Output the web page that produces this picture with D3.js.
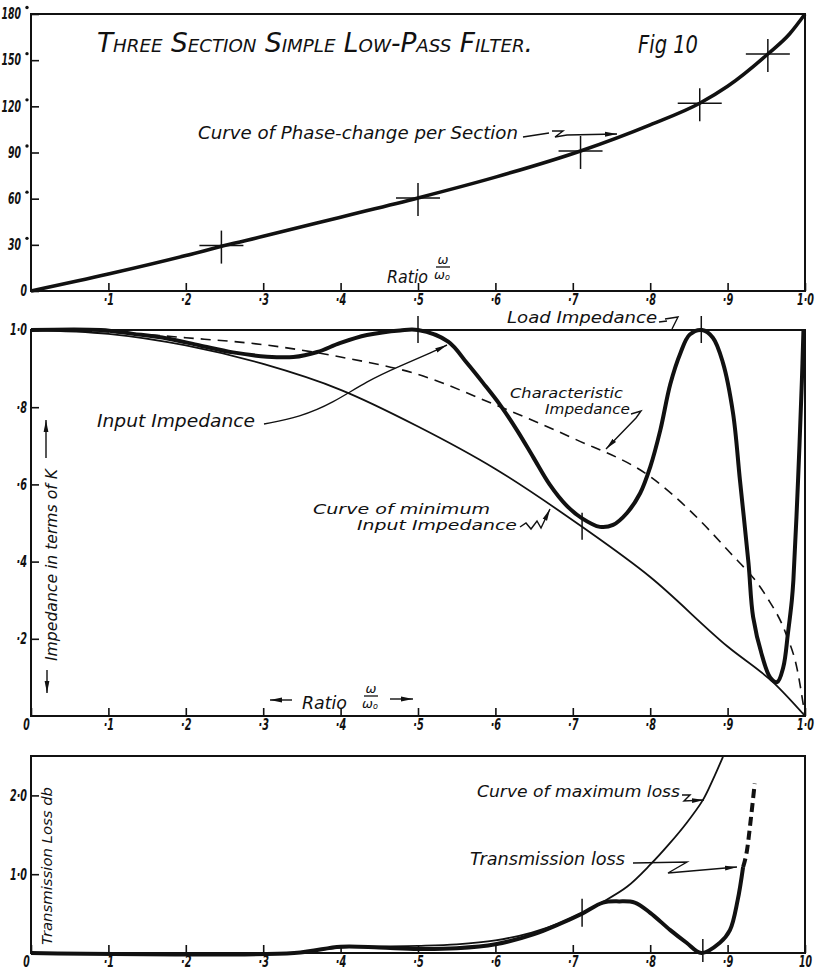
<!DOCTYPE html>
<html>
<head>
<meta charset="utf-8">
<script src="https://cdn.jsdelivr.net/npm/d3@7/dist/d3.min.js"></script>
<style>
  body { margin: 0; background: #fff; }
  svg text { font-family: "DejaVu Sans", sans-serif; font-style: italic; fill: #111; }
</style>
</head>
<body>
<svg id="chart" width="823" height="972"></svg>
<script>
// ratio w/w0 axis, shared by the three panels
var ratioTicks = [0, .1, .2, .3, .4, .5, .6, .7, .8, .9, 1];
var ratioLabels = ["0", "·1", "·2", "·3", "·4", "·5", "·6", "·7", "·8", "·9", "1·0"];
var lossRatioLabels = ["0", "·1", "·2", "·3", "·4", "·5", "·6", "·7", "·8", "·9", "10"];

var phaseTicks = [0, 30, 60, 90, 120, 150, 180];
var impTicks = [.2, .4, .6, .8, 1];
var impTickLabels = ["·2", "·4", "·6", "·8", "1·0"];
var lossTicks = [1, 2];
var lossTickLabels = ["1·0", "2·0"];

// phase-change per section (degrees)
var phaseX   = [0, .1, .2, .25, .3, .4, .5, .6, .71, .8, .864, .9, .952, .98, 1];
var phaseDeg = [0, 11, 23, 29.5, 35.5, 48, 60.5, 74, 91, 108, 122, 133, 154, 167, 180];
var phaseMarkX   = [.246, .5, .71, .864, .952];
var phaseMarkDeg = [29.5, 60.5, 91, 122, 154];

// impedance panel
var charX   = [0, .1, .2, .3, .4, .5, .6, .7, .8, .9, .95, .975, .99, 1];
var charImp = [1, .995, .98, .962, .93, .885, .806, .72, .62, .43, .31, .215, .12, 0];

var minX   = [0, .1, .2, .3, .4, .5, .6, .712, .8, .9, .96, 1];
var minImp = [1, .99, .96, .912, .845, .75, .64, .49, .36, .18, .085, 0];

var inputX   = [0, .09, .132, .176, .218, .261, .305, .339, .37, .399, .434, .477, .5,
                .539, .563, .584, .606, .628, .649, .67, .692, .712, .735, .752, .77, .787,
                .8, .813, .826, .839, .851, .867, .881, .894, .907, .916, .927, .933, .945,
                .955, .964, .972, .978, .983, .985, .991, .996, .998];
var inputImp = [1, 1, .99, .978, .96, .942, .931, .93, .943, .966, .987, .999, 1,
                .97, .915, .863, .806, .74, .67, .6, .545, .512, .49, .495, .526, .577,
                .645, .74, .86, .94, .988, 1, .98, .915, .785, .61, .396, .256, .153,
                .10, .088, .127, .215, .3, .352, .61, .87, 1];
var impMarkX = [.5, .866, .712];
var impMarkY = [1, 1, .49];

// transmission loss panel (db)
var maxLossX = [0, .34, .4, .5, .55, .6, .647, .683, .712, .739, .77, .8, .826, .847, .868, .881, .894];
var maxLoss  = [0, 0, .07, .09, .11, .16, .26, .38, .51, .65, .84, 1.12, 1.4, 1.65, 1.94, 2.2, 2.49];

var lossX = [0, .34, .4, .45, .5, .55, .6, .65, .683, .712, .739, .76, .78, .8, .826, .847, .866, .89, .903, .913, .92];
var loss  = [0, 0, .08, .07, .05, .06, .11, .24, .37, .5, .64, .655, .64, .51, .29, .13, 0, .13, .29, .67, 1.09];
var lossDashX = [.92, .925, .93, .935];
var lossDash  = [1.09, 1.3, 1.7, 2.15];
var lossMarkX = [.712, .868];
var lossMarkY = [.51, 0];

var svg = d3.select("#chart");
var ink = "#111";

var x = d3.scaleLinear().domain([0, 1]).range([31, 805]);
var yPhase = d3.scaleLinear().domain([0, 180]).range([291, 14]);
var yImp = d3.scaleLinear().domain([0, 1]).range([716, 330]);
var yLoss = d3.scaleLinear().domain([0, 2.5]).range([953, 756]);

svg.append("defs").append("marker")
    .attr("id", "arrow")
    .attr("viewBox", "0 0 12 6")
    .attr("refX", 12).attr("refY", 3)
    .attr("markerWidth", 12).attr("markerHeight", 6)
    .attr("markerUnits", "userSpaceOnUse")
    .attr("orient", "auto")
  .append("path")
    .attr("d", "M0,0.6L12,3L0,5.4Z")
    .attr("fill", ink);

// hand-lettered numerals are narrow: squeeze each label to its drawn width
function numWidth(s) {
  var w = 0;
  for (var i = 0; i < s.length; i++) w += s[i] === "·" ? 4 : 6.5;
  return w;
}

function frame(y) {
  var r = y.range();
  svg.append("rect")
    .attr("x", x(0)).attr("y", r[1])
    .attr("width", x(1) - x(0)).attr("height", r[0] - r[1])
    .attr("fill", "none").attr("stroke", ink).attr("stroke-width", 2);
}

function xAxis(y, labels, pad, skipZero) {
  var ticks = skipZero ? ratioTicks.slice(1) : ratioTicks;
  var g = svg.append("g")
    .attr("transform", "translate(0," + y.range()[0] + ")")
    .call(d3.axisBottom(x).tickValues(ticks).tickSizeInner(-8).tickSizeOuter(0)
      .tickPadding(pad).tickFormat(function(d) { return labels[ratioTicks.indexOf(d)]; }));
  g.select(".domain").remove();
  g.selectAll("line").attr("stroke", ink).attr("stroke-width", 1.6);
  g.selectAll("text")
    .attr("font-size", 15).attr("font-weight", "bold")
    .attr("fill", ink)
    .attr("textLength", function() { return numWidth(this.textContent); })
    .attr("lengthAdjust", "spacingAndGlyphs")
    .attr("dx", function(d) { return d === 0 ? -5 : 0; });
  g.attr("font-family", null).attr("font-size", null);
}

function yAxis(y, ticks, labels, deg) {
  var g = svg.append("g")
    .attr("transform", "translate(" + x(0) + ",0)")
    .call(d3.axisLeft(y).tickValues(ticks).tickSizeInner(-8).tickSizeOuter(0)
      .tickPadding(4).tickFormat(function(d, i) { return labels[i]; }));
  g.select(".domain").remove();
  g.selectAll("line").attr("stroke", ink).attr("stroke-width", 1.6);
  g.selectAll("text").attr("font-size", 15).attr("font-weight", "bold").attr("fill", ink)
    .attr("textLength", function() { return numWidth(this.textContent); })
    .attr("lengthAdjust", "spacingAndGlyphs");
  if (deg) {
    // the degree mark is a raised dot after the figure
    var t = g.selectAll(".tick").filter(function(d) { return d > 0; });
    t.select("text").attr("dx", -6);
    t.append("circle")
      .attr("cx", -4).attr("cy", -7).attr("r", 1.7)
      .attr("fill", ink);
  }
  g.attr("font-family", null).attr("font-size", null);
}

function curve(y, xs, ys, width, dash, smooth) {
  var line = d3.line()
    .x(function(d) { return x(d[0]); })
    .y(function(d) { return y(d[1]); })
    .curve(smooth ? d3.curveCatmullRom.alpha(0.5) : d3.curveMonotoneX);
  svg.append("path")
    .datum(d3.zip(xs, ys))
    .attr("d", line)
    .attr("fill", "none")
    .attr("stroke", ink)
    .attr("stroke-width", width)
    .attr("stroke-linejoin", "round")
    .attr("stroke-dasharray", dash || null);
}

function label(text, x0, y0, size, len, extra) {
  var t = svg.append("text")
    .attr("x", x0).attr("y", y0)
    .attr("font-size", size)
    .attr("textLength", len)
    .attr("lengthAdjust", "spacingAndGlyphs")
    .text(text);
  if (extra) extra(t);
  return t;
}

function leader(points, curveType, arrow) {
  svg.append("path")
    .attr("d", d3.line().curve(curveType || d3.curveLinear)(points))
    .attr("fill", "none").attr("stroke", ink).attr("stroke-width", 1.4)
    .attr("marker-end", arrow === false ? null : "url(#arrow)");
}

function ratioFrac(cx, yTop) {
  svg.append("text").attr("x", cx).attr("y", yTop + 9).attr("font-size", 13)
    .attr("text-anchor", "middle").text("ω");
  svg.append("line").attr("x1", cx - 7).attr("x2", cx + 7)
    .attr("y1", yTop + 12).attr("y2", yTop + 12)
    .attr("stroke", ink).attr("stroke-width", 1.3);
  var t = svg.append("text").attr("x", cx - 1).attr("y", yTop + 24).attr("font-size", 13)
    .attr("text-anchor", "middle").text("ω");
  t.append("tspan").attr("font-size", 8).attr("dy", 1).text("o");
}

// ---------- top panel: phase change ----------
frame(yPhase);
xAxis(yPhase, ratioLabels, 3, true);
yAxis(yPhase, phaseTicks, phaseTicks.map(String), true);

curve(yPhase, phaseX, phaseDeg, 3.6);

var crosses = svg.append("g").attr("stroke", ink).attr("stroke-width", 1.5);
crosses.selectAll("line.h").data(d3.zip(phaseMarkX, phaseMarkDeg)).join("line")
  .attr("class", "h")
  .attr("x1", function(d) { return x(d[0]) - 22; })
  .attr("x2", function(d) { return x(d[0]) + 22; })
  .attr("y1", function(d) { return yPhase(d[1]); })
  .attr("y2", function(d) { return yPhase(d[1]); });
crosses.selectAll("line.v").data(d3.zip(phaseMarkX, phaseMarkDeg)).join("line")
  .attr("class", "v")
  .attr("x1", function(d) { return x(d[0]); })
  .attr("x2", function(d) { return x(d[0]); })
  .attr("y1", function(d) { return yPhase(d[1]) - 15; })
  .attr("y2", function(d) { return yPhase(d[1]) + 18; });

label("Three Section Simple Low-Pass Filter.", 97, 52, 26, 436,
  function(t) { t.style("font-variant", "small-caps"); });
label("Fig 10", 638, 53, 24, 60);
label("Curve of Phase-change per Section", 198, 139, 17, 320);
leader([[523, 137], [549, 133]], null, false);
leader([[552, 131], [563, 131], [555, 137], [567, 135], [617, 134]]);
label("Ratio", 387, 283, 17, 41);
ratioFrac(443, 255);

// ---------- middle panel: impedance ----------
frame(yImp);
xAxis(yImp, ratioLabels, 3, false);
yAxis(yImp, impTicks, impTickLabels, false);

curve(yImp, charX, charImp, 1.6, "10,7");
curve(yImp, minX, minImp, 1.8);
curve(yImp, inputX, inputImp, 4, null, true);

svg.append("g").attr("stroke", ink).attr("stroke-width", 1.5)
  .selectAll("line").data(d3.zip(impMarkX, impMarkY)).join("line")
  .attr("x1", function(d) { return x(d[0]); })
  .attr("x2", function(d) { return x(d[0]); })
  .attr("y1", function(d) { return yImp(d[1]) - 14; })
  .attr("y2", function(d) { return yImp(d[1]) + 13; });

label("Load Impedance", 507, 323, 16, 150);
leader([[659, 322], [667, 321]], null, false);
leader([[665, 319], [678, 317], [672, 329]], null, false);

label("Characteristic", 510, 398, 14, 113);
label("Impedance", 545, 414, 14, 85);
leader([[631, 414], [641, 411], [636, 418], [606, 449]]);

label("Input Impedance", 97, 427, 17, 158);
leader([[264, 424], [300, 417], [333, 403], [367, 381], [400, 366], [433, 352], [447, 345]],
  d3.curveBasis);

label("Curve of minimum", 313, 514, 14, 177);
label("Input Impedance", 357, 530, 14, 160);
leader([[520, 527], [526, 523], [531, 529], [537, 521], [541, 528], [550, 509]]);

svg.append("text")
  .attr("transform", "translate(57,661) rotate(-90)")
  .attr("font-size", 15).attr("textLength", 192).attr("lengthAdjust", "spacingAndGlyphs")
  .text("Impedance in terms of K");
leader([[46, 458], [46, 420]]);
leader([[47, 670], [47, 693]]);

label("Ratio", 302, 709, 17, 45);
ratioFrac(371, 684);
leader([[292, 700], [270, 700]]);
leader([[390, 699], [413, 699]]);

// ---------- bottom panel: transmission loss ----------
frame(yLoss);
xAxis(yLoss, lossRatioLabels, 3, false);
yAxis(yLoss, lossTicks, lossTickLabels, false);

curve(yLoss, maxLossX, maxLoss, 1.8, null, true);
curve(yLoss, lossX, loss, 4, null, true);
curve(yLoss, lossDashX, lossDash, 4, "9,5");

svg.append("g").attr("stroke", ink).attr("stroke-width", 1.5)
  .selectAll("line").data(d3.zip(lossMarkX, lossMarkY)).join("line")
  .attr("x1", function(d) { return x(d[0]); })
  .attr("x2", function(d) { return x(d[0]); })
  .attr("y1", function(d) { return yLoss(d[1]) - 14; })
  .attr("y2", function(d) { return Math.min(yLoss(d[1]) + 14, 962); });

label("Curve of maximum loss", 477, 797, 15, 203);
leader([[682, 795], [690, 795], [684, 801], [704, 800]]);
label("Transmission loss", 470, 865, 17, 155);
leader([[633, 863], [687, 862], [668, 873], [737, 867]]);

svg.append("text")
  .attr("transform", "translate(52,945) rotate(-90)")
  .attr("font-size", 14).attr("textLength", 158).attr("lengthAdjust", "spacingAndGlyphs")
  .text("Transmission Loss db");
</script>
</body>
</html>
